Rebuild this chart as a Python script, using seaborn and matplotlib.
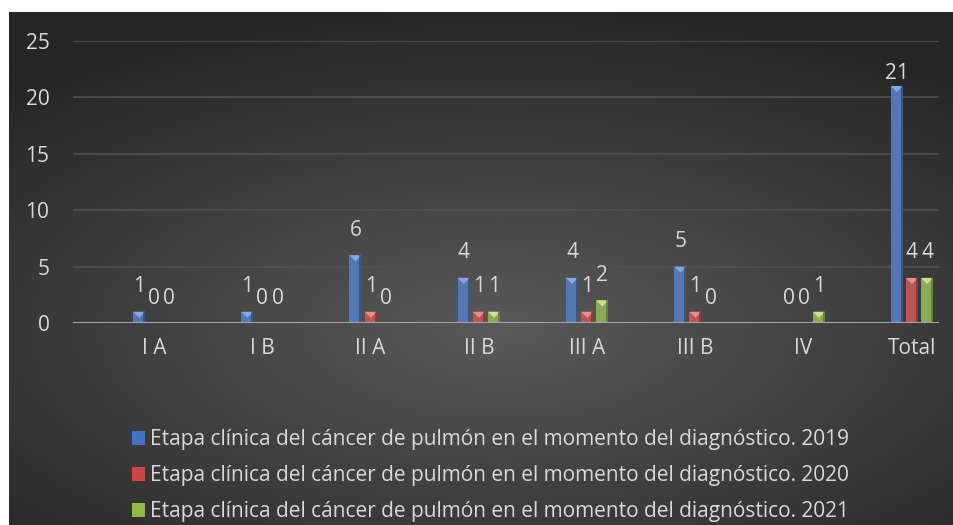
import numpy as np
import pandas as pd
import matplotlib
matplotlib.use('Agg')
import matplotlib.pyplot as plt
import seaborn as sns
from matplotlib.patches import Patch, Polygon

# data
etapas = ['I A', 'I B', 'II A', 'II B', 'III A', 'III B', 'IV', 'Total']
series = ['Etapa clínica del cáncer de pulmón en el momento del diagnóstico. 2019',
          'Etapa clínica del cáncer de pulmón en el momento del diagnóstico. 2020',
          'Etapa clínica del cáncer de pulmón en el momento del diagnóstico. 2021']
v2019 = [1, 1, 6, 4, 4, 5, 0, 21]
v2020 = [0, 0, 1, 1, 1, 1, 0, 4]
v2021 = [0, 0, 0, 1, 2, 0, 1, 4]
colores = ['#4573c4', '#cc4547', '#92b84a']
claros = ['#8fb3ee', '#f09a9a', '#d5ee9a']
oscuros = ['#22407a', '#7a2224', '#4f6a1e']

df = pd.DataFrame({
    'etapa': etapas * 3,
    'serie': [series[0]] * 8 + [series[1]] * 8 + [series[2]] * 8,
    'n': v2019 + v2020 + v2021,
})

sns.set_style('dark')
plt.rcParams['font.family'] = ['Open Sans', 'DejaVu Sans']
txt = '#d9d9d9'
fs = 15

W, H = 954, 525
fig = plt.figure(figsize=(W / 100, H / 100), dpi=100, facecolor='white')

# dark radial background of the chart area
bg = fig.add_axes([9 / W, 0, 1 - 9 / W, 1 - 12 / H], zorder=0)
yy, xx = np.mgrid[0:1:300j, 0:1:500j]
r = np.sqrt(((xx - 0.52) / 0.9) ** 2 + ((yy - 0.62) / 0.75) ** 2)
shade = np.clip(1 - r / 0.85, 0, 1)
c0 = np.array([0x26, 0x26, 0x26]) / 255
c1 = np.array([0x5a, 0x5a, 0x5a]) / 255
img = c0 + (c1 - c0) * shade[..., None]
bg.imshow(img, aspect='auto', extent=(0, 1, 0, 1), origin='upper')
bg.axis('off')

ax = fig.add_axes([73 / W, (H - 323) / H, (939 - 73) / W, (323 - 41) / H], zorder=1)
ax.set_facecolor('none')

sns.barplot(data=df, x='etapa', y='n', hue='serie', palette=colores,
            width=0.42, gap=0.2, ax=ax, legend=False, zorder=3,
            edgecolor='none', linewidth=0)

# bevel look on bar tops + value labels
px_y = 25 / (323 - 41)
vals = [v2019, v2020, v2021]
for k, cont in enumerate(ax.containers):
    for j, p in enumerate(cont.patches):
        x0, w, h = p.get_x(), p.get_width(), p.get_height()
        if h > 0:
            d = 6 * px_y
            ax.add_patch(Polygon([(x0, h), (x0 + w, h), (x0 + w / 2, h - d)],
                                 closed=True, facecolor=claros[k], edgecolor='none',
                                 zorder=4, alpha=0.85))
            ax.add_patch(plt.Rectangle((x0 + w * 0.82, 0), w * 0.18, h,
                                       facecolor=oscuros[k], edgecolor='none',
                                       zorder=4, alpha=0.6))
        v = vals[k][j]
        off = 9 if v > 20 else 18
        ax.annotate(str(v), (x0 + w / 2, v), xytext=(0, off), textcoords='offset points',
                    ha='center', va='center', color=txt, fontsize=fs, zorder=5)

ax.set_ylim(0, 25)
ax.set_xlim(-0.75, 7.25)
ax.set_yticks([0, 5, 10, 15, 20, 25])
ax.yaxis.grid(True, color='#505050', linewidth=1.2, zorder=0)
ax.xaxis.grid(False)
ax.axhline(0, color='#a6a6a6', linewidth=2.2, zorder=6)
for s in ax.spines.values():
    s.set_visible(False)
ax.tick_params(axis='y', length=0, pad=17, labelsize=fs, labelcolor=txt)
ax.tick_params(axis='x', length=0, pad=11, labelsize=fs, labelcolor=txt)
ax.set_xlabel('')
ax.set_ylabel('')

handles = [Patch(facecolor=c, edgecolor='none') for c in colores]
fig.legend(handles, series, loc='upper left', bbox_to_anchor=(122 / W, 1 - 419 / H),
           frameon=False, fontsize=fs, labelcolor=txt, handlelength=0.6,
           handleheight=0.6, handletextpad=0.25, labelspacing=0.72, borderpad=0)

fig.savefig('out.png', dpi=100, facecolor='white')
